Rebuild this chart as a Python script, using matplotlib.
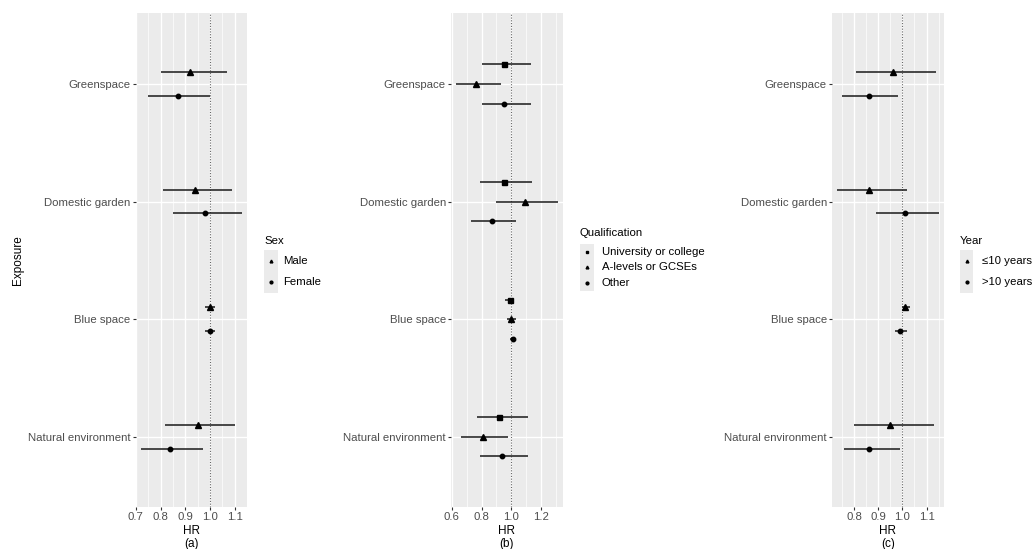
# Forest plots of HR by exposure, stratified by sex, qualification and years.
import matplotlib
matplotlib.use("Agg")
import matplotlib.pyplot as plt
from matplotlib.lines import Line2D
from matplotlib.patches import Rectangle

plt.rcParams["font.family"] = ["Liberation Sans", "DejaVu Sans"]

W, H = 1035, 549

exposures = ["Greenspace", "Domestic garden", "Blue space", "Natural environment"]

# (a) sex
male_hr = [0.92, 0.94, 1.00, 0.95]
male_lo = [0.80, 0.81, 0.98, 0.82]
male_hi = [1.07, 1.09, 1.02, 1.10]
female_hr = [0.87, 0.98, 1.00, 0.84]
female_lo = [0.75, 0.85, 0.98, 0.72]
female_hi = [1.00, 1.13, 1.02, 0.97]

# (b) qualification
univ_hr = [0.95, 0.95, 0.99, 0.92]
univ_lo = [0.80, 0.79, 0.96, 0.77]
univ_hi = [1.13, 1.14, 1.02, 1.11]
alevel_hr = [0.76, 1.09, 1.00, 0.81]
alevel_lo = [0.63, 0.90, 0.97, 0.66]
alevel_hi = [0.93, 1.31, 1.03, 0.98]
other_hr = [0.95, 0.87, 1.01, 0.94]
other_lo = [0.80, 0.73, 0.99, 0.79]
other_hi = [1.13, 1.03, 1.03, 1.11]

# (c) years
le10_hr = [0.96, 0.86, 1.01, 0.95]
le10_lo = [0.81, 0.73, 1.00, 0.80]
le10_hi = [1.14, 1.02, 1.03, 1.13]
gt10_hr = [0.86, 1.01, 0.99, 0.86]
gt10_lo = [0.75, 0.89, 0.97, 0.76]
gt10_hi = [0.98, 1.15, 1.02, 0.99]

sex_labels = ["Male", "Female"]
qual_labels = ["University or college", "A-levels or GCSEs", "Other"]
year_labels = ["\u226410 years", ">10 years"]

ypos = [4, 3, 2, 1]
TICK_COLOR = "#4D4D4D"
FS = 8.2


def fx(x):
    return x / W


def fy(y):
    return 1 - y / H


def draw_panel(ax, groups, offsets, ticks, minor):
    ax.set_facecolor("#EBEBEB")
    lows, highs = [], []
    for (hr, lo, hi, marker, ms), off in zip(groups, offsets):
        y = [p + off for p in ypos]
        ax.hlines(y, lo, hi, color="#1a1a1a", lw=1.1, zorder=3)
        ax.plot(hr, y, ls="none", marker=marker, ms=ms, color="black", zorder=4)
        lows += lo
        highs += hi
    pad = 0.05 * (max(highs) - min(lows))
    ax.set_xlim(min(lows) - pad, max(highs) + pad)
    ax.set_ylim(0.4, 4.6)
    ax.axvline(1.0, color="#666666", ls=(0, (1, 1.5)), lw=0.8, zorder=2)

    ax.set_xticks(ticks)
    ax.set_xticklabels([f"{t:.1f}" for t in ticks])
    ax.set_xticks(minor, minor=True)
    ax.set_yticks(ypos)
    ax.set_yticklabels(exposures)
    ax.grid(which="major", color="white", lw=1.0)
    ax.grid(which="minor", axis="x", color="white", lw=0.5)
    ax.set_axisbelow(True)
    ax.tick_params(which="major", length=2.2, width=0.8, color="#333333",
                   labelsize=FS, labelcolor=TICK_COLOR, pad=1.5)
    ax.tick_params(which="minor", length=0)
    for s in ax.spines.values():
        s.set_visible(False)


def draw_legend(fig, title, labels, markers, title_y, box, rows, text_x):
    x0, x1, y0, y1 = box
    fig.text(fx(x0), fy(title_y), title, fontsize=FS, va="center", ha="left")
    fig.add_artist(Rectangle((fx(x0), fy(y1)), fx(x1) - fx(x0), fy(y0) - fy(y1),
                             transform=fig.transFigure, color="#EBEBEB", lw=0))
    for lab, mk, ry in zip(labels, markers, rows):
        fig.add_artist(Line2D([fx((x0 + x1) / 2)], [fy(ry)], marker=mk, ms=2.0,
                              color="black", ls="none", transform=fig.transFigure))
        fig.text(fx(text_x), fy(ry), lab, fontsize=FS, va="center", ha="left")


fig = plt.figure(figsize=(W / 100, H / 100), dpi=100)

top, bottom = 13.4, 507.3
panels = [(135.6, 247.4), (451.1, 562.6), (832.0, 943.7)]
axes = []
for left, right in panels:
    axes.append(fig.add_axes([fx(left), fy(bottom), (right - left) / W, (bottom - top) / H]))

draw_panel(axes[0],
           [(male_hr, male_lo, male_hi, "^", 4.0),
            (female_hr, female_lo, female_hi, "o", 3.2)],
           [0.1, -0.1],
           [0.7, 0.8, 0.9, 1.0, 1.1],
           [0.75, 0.85, 0.95, 1.05, 1.15])
draw_panel(axes[1],
           [(univ_hr, univ_lo, univ_hi, "s", 3.6),
            (alevel_hr, alevel_lo, alevel_hi, "^", 4.0),
            (other_hr, other_lo, other_hi, "o", 3.2)],
           [0.167, 0.0, -0.167],
           [0.6, 0.8, 1.0, 1.2],
           [0.7, 0.9, 1.1, 1.3])
draw_panel(axes[2],
           [(le10_hr, le10_lo, le10_hi, "^", 4.0),
            (gt10_hr, gt10_lo, gt10_hi, "o", 3.2)],
           [0.1, -0.1],
           [0.8, 0.9, 1.0, 1.1],
           [0.75, 0.85, 0.95, 1.05, 1.15])

for (left, right), tag in zip(panels, ["(a)", "(b)", "(c)"]):
    cx = (left + right) / 2
    fig.text(fx(cx), fy(531), "HR", fontsize=FS + 0.3, ha="center", va="center")
    fig.text(fx(cx), fy(543.5), tag, fontsize=FS + 0.3, ha="center", va="center")

fig.text(fx(18), fy(260), "Exposure", fontsize=FS + 0.3, rotation=90,
         ha="center", va="center")

draw_legend(fig, "Sex", sex_labels, ["^", "o"], 240.5,
            (264, 278, 250, 293), [260.5, 282], 283)
draw_legend(fig, "Qualification", qual_labels, ["s", "^", "o"], 233,
            (580, 594, 244, 291), [252, 267, 283], 601.5)
draw_legend(fig, "Year", year_labels, ["^", "o"], 240.5,
            (960, 973, 250, 293), [260.5, 282], 982)

fig.savefig("out.png", dpi=100)
